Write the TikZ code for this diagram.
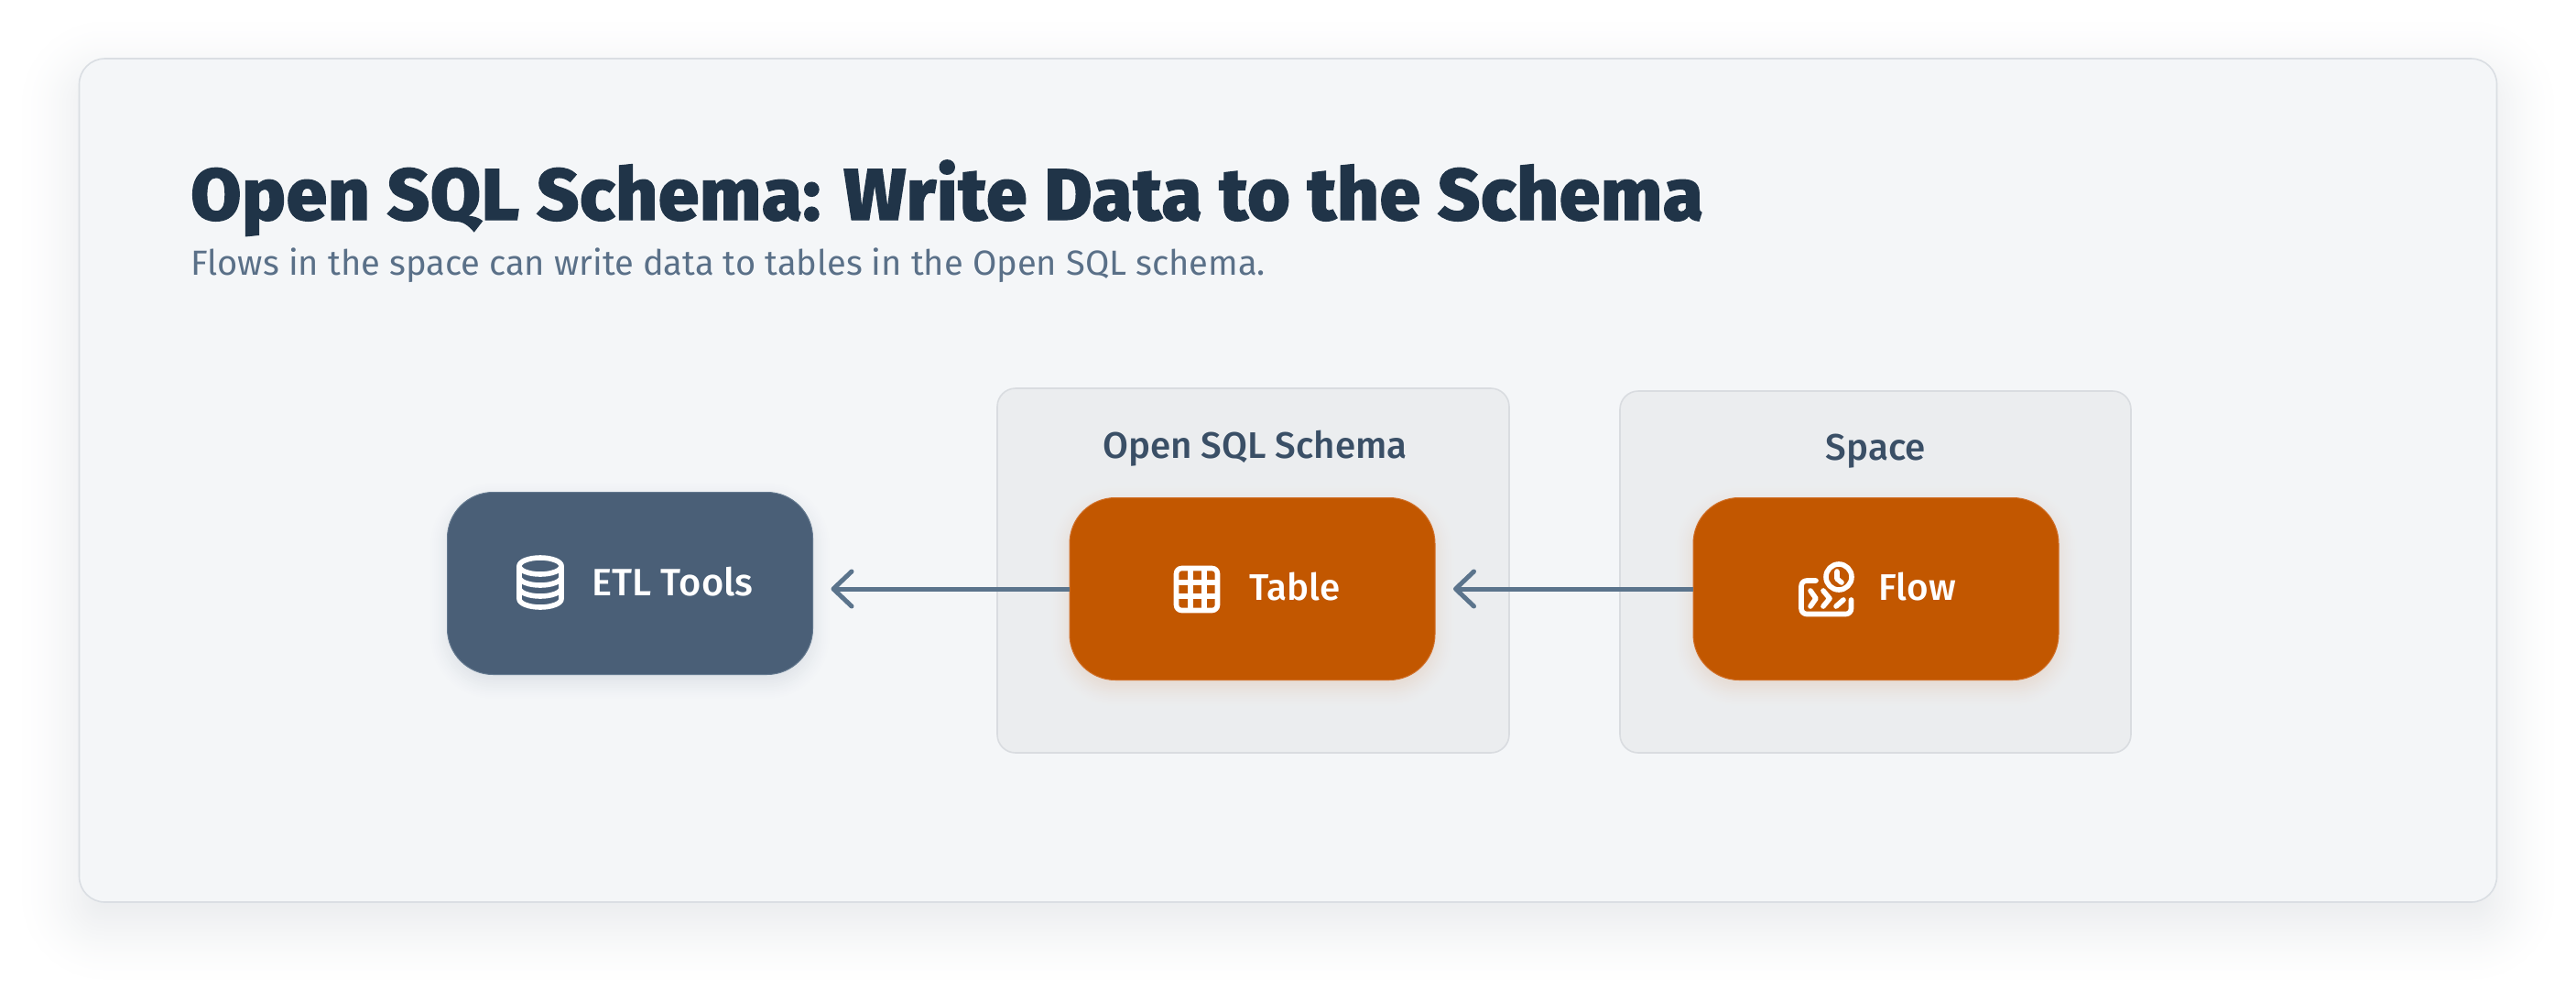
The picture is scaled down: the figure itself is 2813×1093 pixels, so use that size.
\documentclass[tikz,border=0pt]{standalone}
\usepackage{fontspec}
\setmainfont{Fira Sans}
\newfontfamily\titlefont{Fira Sans ExtraBold}[FakeBold=1.5,LetterSpace=1.2]
\newfontfamily\nodefont{Fira Sans Medium}
\newfontfamily\subfont{Fira Sans}
\usetikzlibrary{arrows.meta}
\definecolor{titlecol}{HTML}{203448}
\definecolor{subcol}{HTML}{5A7088}
\definecolor{cardcol}{HTML}{F4F6F8}
\definecolor{cardedge}{HTML}{DADEE3}
\definecolor{groupcol}{HTML}{EBEDEF}
\definecolor{groupedge}{HTML}{D9DCE0}
\definecolor{grouptext}{HTML}{3A4F66}
\definecolor{bluecol}{HTML}{4A5F77}
\definecolor{blueedge}{HTML}{64798F}
\definecolor{orangecol}{HTML}{C25700}
\definecolor{orangeedge}{HTML}{D1702A}
\definecolor{arrowcol}{HTML}{5B748C}
\pgfdeclarelayer{under}
\pgfdeclarelayer{back}
\pgfdeclarelayer{shade}
\pgfsetlayers{under,back,shade,main}
\tikzset{
    cardbox/.style={draw=cardedge,fill=cardcol,line width=.8pt,rounded corners=14pt,minimum width=1320pt,minimum height=460.5pt,inner sep=0pt,outer sep=0pt},
    groupbox/.style={draw=groupedge,fill=groupcol,line width=.8pt,rounded corners=10pt,inner sep=0pt,outer sep=0pt},
    toolbox/.style={rounded corners=25pt,minimum width=199.5pt,minimum height=99.5pt,inner sep=0pt,outer sep=0pt,line width=.5pt},
    bluebox/.style={toolbox,fill=bluecol,draw=blueedge},
    orangebox/.style={toolbox,fill=orangecol,draw=orangeedge},
    boxtext/.style={anchor=base west,text=white,font=\nodefont\fontsize{20.2}{24}\selectfont,inner sep=0pt},
    grouptitle/.style={anchor=base,text=grouptext,font=\nodefont\fontsize{20.2}{24}\selectfont,inner sep=0pt},
    iconline/.style={draw=white,line width=2.8pt,line cap=round,line join=round},
    flowarrow/.style={draw=arrowcol,line width=2.5pt,-{Straight Barb[length=10pt,width=19pt,round]}}
}
\newcommand{\softshade}[7]{
    \pgfmathtruncatemacro{\n}{#5+#4}
    \foreach \k in {0,...,\n}{
        \pgfmathsetmacro{\d}{#5-\k}
        \pgfmathsetmacro{\t}{(#5-\d)/(2*#5)}
        \pgfmathsetmacro{\p}{#6*\t*\t*(3-2*\t)}
        \pgfmathsetmacro{\r}{max(#7+\d,1)}
        \fill[#2!\p!#3,rounded corners=\r pt] ([xshift=-\d pt,yshift=-\d pt-#4 pt]#1.south west) rectangle ([xshift=\d pt,yshift=\d pt-#4 pt]#1.north east);
    }
}
\begin{document}
\begin{tikzpicture}[x=.5pt,y=-.5pt]
        \useasboundingbox (0,0) rectangle (2813,1093);
        \begin{pgfonlayer}{back}
            \node[cardbox] (card) at (1406.5,524.5) {};
            \node[groupbox,minimum width=279.5pt,minimum height=199pt] (schema) at (1368.5,623) {};
            \node[groupbox,minimum width=279pt,minimum height=197.5pt] (space) at (2048,624.5) {};
        \end{pgfonlayer}
        \node[anchor=base west,inner sep=0pt,text=titlecol,font=\titlefont\fontsize{39.8}{44}\selectfont] (title) at (208,240) {Open SQL Schema: Write Data to the Schema};
        \node[anchor=base west,inner sep=0pt,text=subcol,font=\subfont\fontsize{19.05}{24}\selectfont] (subtitle) at (208,300) {Flows in the space can write data to tables in the Open SQL schema.};
        \node[grouptitle] (schematitle) at (1370.5,500) {Open SQL Schema};
        \node[grouptitle] (spacetitle) at (2048.5,502) {Space};
        \node[bluebox] (etl) at (688,637) {};
        \node[orangebox] (table) at (1367.5,643) {};
        \node[orangebox] (flow) at (2048.5,643) {};
        \node[boxtext,font=\nodefont\fontsize{20.8}{24}\selectfont] (etltext) at (646,650) {ETL Tools};
        \node[boxtext] (tabletext) at (1364,655) {Table};
        \node[boxtext] (flowtext) at (2051,655) {Flow};
        \draw[iconline] (590,618) ellipse (23 and 9);
        \draw[iconline] (567,618) -- (567,654) arc (180:0:23 and 9) -- (613,618);
        \draw[iconline] (567,630) arc (180:0:23 and 9);
        \draw[iconline] (567,642) arc (180:0:23 and 9);
        \draw[iconline,rounded corners=3pt] (1284.5,620.5) rectangle (1329.5,666.5);
        \draw[iconline,line cap=butt] (1299.7,620.5) -- (1299.7,666.5) (1314.7,620.5) -- (1314.7,666.5);
        \draw[iconline,line cap=butt] (1284.5,636) -- (1329.5,636) (1284.5,651) -- (1329.5,651);
        \draw[iconline] (2008,630) circle (14);
        \draw[iconline] (2006,624) -- (2006,632) -- (2011,636);
        \draw[iconline,rounded corners=3pt] (1983,634) -- (1967,634) -- (1967,670.5) -- (2021.5,670.5) -- (2021.5,655);
        \draw[iconline] (1977,645) -- (1983,653.5) -- (1977,662);
        \draw[iconline] (1991,645) -- (1998,653.5) -- (1991,662);
        \draw[iconline] (2005,662) -- (2013,655);
        \draw[flowarrow] (table.west) -- (table.west -| etl.east) [shorten >=10pt];
        \draw[flowarrow] (flow.west) -- (flow.west -| table.east) [shorten >=10pt];
        \begin{pgfonlayer}{shade}
            \softshade{etl}{bluecol}{cardcol}{4}{12}{16}{25}
            \softshade{table}{orangecol}{groupcol}{4}{12}{16}{25}
            \softshade{flow}{orangecol}{groupcol}{4}{12}{16}{25}
        \end{pgfonlayer}
        \begin{pgfonlayer}{under}
            \softshade{card}{titlecol}{white}{11}{37}{12}{14}
        \end{pgfonlayer}
    \end{tikzpicture}
\end{document}
